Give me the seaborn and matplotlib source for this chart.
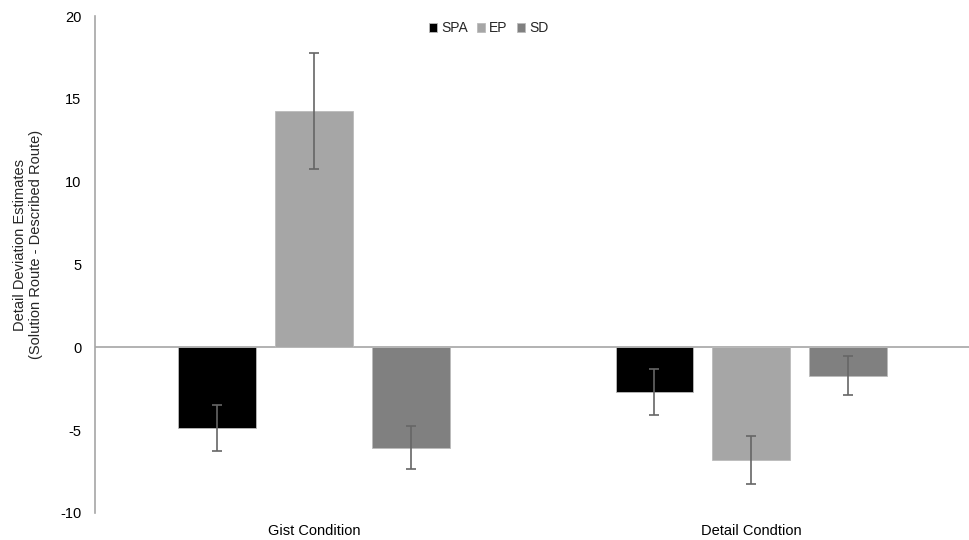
import pandas as pd
import matplotlib
matplotlib.use("Agg")
import matplotlib.pyplot as plt
import seaborn as sns

# Data
conditions = ["Gist Condition", "Detail Condtion"]
groups = ["SPA", "EP", "SD"]
gist_means = [-4.85, 14.3, -6.05]
detail_means = [-2.7, -6.8, -1.7]
gist_err = [1.4, 3.5, 1.3]
detail_err = [1.4, 1.45, 1.2]
colors = ["#000000", "#a6a6a6", "#808080"]

df = pd.DataFrame({
    "Condition": [conditions[0]] * 3 + [conditions[1]] * 3,
    "Group": groups * 2,
    "Mean": gist_means + detail_means,
    "Err": gist_err + detail_err,
})

sns.set_style("white")
plt.rcParams["font.family"] = ["Liberation Sans", "DejaVu Sans"]
plt.rcParams["axes.unicode_minus"] = False

fig = plt.figure(figsize=(9.7, 5.4), dpi=100)
ax = fig.add_axes([0.098, 0.05, 0.902, 0.92])

sns.barplot(
    data=df, x="Condition", y="Mean", hue="Group",
    order=conditions, hue_order=groups,
    palette=colors, width=0.665, gap=0.2,
    errorbar=None, edgecolor="#bbbbbb", linewidth=0.6,
    ax=ax
)

# Error bars at the bar centres
for i, g in enumerate(groups):
    cont = ax.containers[i]
    for bar, cond in zip(cont, conditions):
        row = df[(df["Group"] == g) & (df["Condition"] == cond)].iloc[0]
        xc = bar.get_x() + bar.get_width() / 2
        ax.errorbar(xc, row["Mean"], yerr=row["Err"], fmt="none",
                    ecolor="#666666", elinewidth=1.2, capsize=3.5, capthick=1.2)

ax.axhline(0, color="#a6a6a6", linewidth=1.2, zorder=0.5)
ax.set_ylim(-10, 20)
ax.set_yticks([-10, -5, 0, 5, 10, 15, 20])
ax.set_xlim(-0.5, 1.5)

for s in ["top", "right", "bottom"]:
    ax.spines[s].set_visible(False)
ax.spines["left"].set_color("#a6a6a6")
ax.spines["left"].set_linewidth(1.2)

ax.tick_params(axis="both", length=0, labelsize=10.5, colors="#000000")
ax.tick_params(axis="y", pad=10)
ax.tick_params(axis="x", pad=8)
ax.set_xlabel("")
ax.set_ylabel("Detail Deviation Estimates\n(Solution Route - Described Route)",
              fontsize=10.5, linespacing=1.1)
ax.yaxis.set_label_coords(-0.06, 0.54)

leg = ax.legend(loc="upper center", bbox_to_anchor=(0.45, 1.015), ncol=3,
                frameon=False, fontsize=10, handlelength=0.55, handleheight=0.55,
                handletextpad=0.3, columnspacing=0.7)

fig.savefig("out.png", dpi=100)
